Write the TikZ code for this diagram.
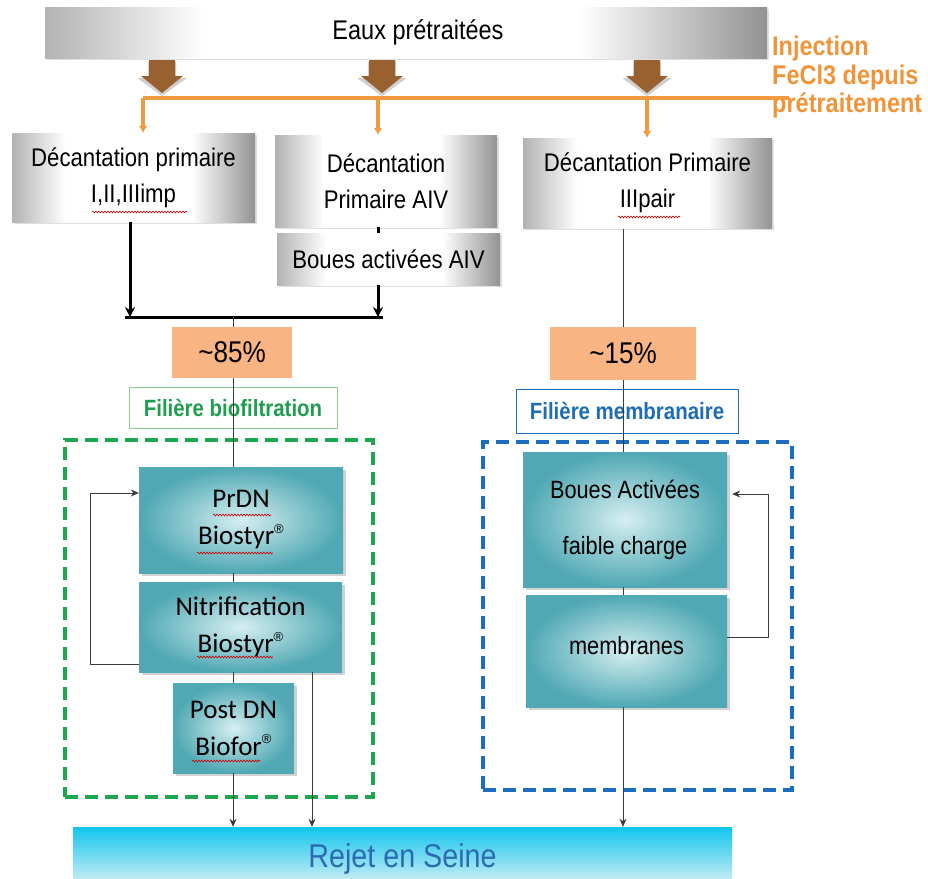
\documentclass[tikz,border=0pt]{standalone}
\usepackage{fontspec}
\setmainfont{Liberation Sans}
\newfontfamily\nf{Liberation Sans}[FakeStretch=0.87]
\newfontfamily\cf{Carlito}
\newfontfamily\regf{Liberation Sans}
\usetikzlibrary{arrows.meta,shadows,decorations.pathmorphing,calc}
\definecolor{brownA}{HTML}{9A6130}
\definecolor{orangeL}{HTML}{F29A40}
\definecolor{orangeT}{HTML}{F0943A}
\definecolor{peach}{HTML}{F9B483}
\definecolor{greenT}{HTML}{1E9E4E}
\definecolor{greenD}{HTML}{1EA64F}
\definecolor{greenL}{HTML}{8ACF8A}
\definecolor{blueT}{HTML}{1E6DB4}
\definecolor{blueD}{HTML}{1A6DC0}
\definecolor{tealD}{HTML}{4FA8B3}
\definecolor{tealL}{HTML}{D6EFF1}
\definecolor{cyanT}{HTML}{12C5EE}
\definecolor{cyanB}{HTML}{E6F3F5}
\definecolor{rejT}{HTML}{2B6CB0}
\definecolor{lineC}{HTML}{3A3A3A}
\pgfdeclarehorizontalshading{grayboxsh}{100bp}{color(0bp)=(gray!60); color(25bp)=(gray!60); color(36bp)=(white); color(62bp)=(white); color(75bp)=(gray!85); color(100bp)=(gray!85)}
\newcommand\regmark{\raisebox{0.9ex}{\regf\fontsize{13}{13}\selectfont ®}}
\tikzset{
  gbox/.style={shading=grayboxsh, inner sep=0pt, align=center,
    font=\nf\fontsize{25.5}{36}\selectfont,
    drop shadow={shadow xshift=1.5pt, shadow yshift=-1.5pt, opacity=0.25}},
  tbox/.style={inner color=tealL, outer color=tealD, inner sep=0pt, align=center,
    font=\cf\fontsize{27}{37}\selectfont,
    drop shadow={shadow xshift=2.5pt, shadow yshift=-2.5pt, opacity=0.35}},
  pbox/.style={fill=peach, inner sep=0pt, font=\nf\fontsize{30}{32}\selectfont},
  lbox/.style={draw, line width=0.8pt, fill=white, inner sep=0pt,
    font=\nf\bfseries\fontsize{23.5}{28}\selectfont},
  dbox/.style={draw, line width=4pt, dash pattern=on 13pt off 7pt, inner sep=0pt},
  rbox/.style={top color=cyanT, bottom color=cyanB, inner sep=0pt,
    text=rejT, font=\nf\fontsize{33}{36}\selectfont},
  injtxt/.style={text=orangeT, align=left, inner sep=0pt,
    font=\nf\bfseries\fontsize{27}{28.5}\selectfont},
  orline/.style={draw=orangeL, line width=3.5pt},
  ortip/.style={-{Latex[length=7pt,width=9pt]}},
  thk/.style={draw=black, line width=3pt},
  thktip/.style={-{Stealth[length=10pt,width=10pt]}},
  thn/.style={draw=lineC, line width=1pt},
  thntip/.style={-{Stealth[length=8pt,width=7pt]}},
  wavy/.style={draw=red!80!black, line width=0.6pt, decorate,
    decoration={snake, amplitude=0.9pt, segment length=3pt}}
}
\begin{document}
\begin{tikzpicture}[x=1pt,y=-1pt]
\clip (0,0) rectangle (928,878);
\fill[white] (0,0) rectangle (928,878);

% top box
\node[gbox, font=\nf\fontsize{27}{30}\selectfont, minimum width=722pt, minimum height=51pt] (top) at (406,32.5) {\hspace*{24pt}Eaux prétraitées};

% brown block arrows
\foreach \x in {162,382,647}{
  \fill[gray!60, opacity=0.6] (\x-14,62) -- (\x+14,62) -- (\x+14,78) -- (\x+25,78) -- (\x,96) -- (\x-25,78) -- (\x-14,78) -- cycle;
  \fill[brownA] (\x-13,60) -- (\x+13,60) -- (\x+13,76) -- (\x+21,76) -- (\x,93) -- (\x-21,76) -- (\x-13,76) -- cycle;
}

% injection text
\node[injtxt, anchor=north west] (inj) at (772,36) {Injection\\FeCl3 depuis\\prétraitement};

% gray boxes
\node[gbox, minimum width=243pt, minimum height=89pt] (d1) at (133.5,177.5) {Décantation primaire\\I,II,IIIimp};
\node[gbox, minimum width=222pt, minimum height=92pt] (d2) at (386,181) {Décantation\\Primaire AIV};
\node[gbox, minimum width=223pt, minimum height=52pt] (d3) at (388.5,259) {Boues activées AIV};
\node[gbox, minimum width=249pt, minimum height=90pt] (d4) at (647.5,183) {Décantation Primaire\\IIIpair};

% orange injection line
\coordinate (o1) at (143,98);
\coordinate (o2) at (378,98);
\coordinate (o3) at (647,98);
\coordinate (oR) at (789,98);
\draw[orline] (o1) -- (oR);
\draw[orline, ortip] (o1) -- (o1 |- d1.north);
\draw[orline, ortip] (o2) -- (o2 |- d2.north);
\draw[orline, ortip] (o3) -- (o3 |- d4.north);

% black collector
\coordinate (jl) at (130,317);
\coordinate (jr) at (378,317);
\coordinate (jc) at (233,317);
\coordinate (jl0) at (125,317);
\coordinate (jr0) at (383,317);
\draw[thk] (jl0) -- (jr0);
\draw[thk, thktip] (d1.south -| jl) -- (jl);
\draw[thk] (d2.south -| jr) -- (d3.north -| jr);
\draw[thk, thktip] (d3.south -| jr) -- (jr);

% percentages
\node[pbox, minimum width=120pt, minimum height=51pt] (p85) at (232,352.5) {\textasciitilde85\%};
\node[pbox, minimum width=146pt, minimum height=53pt] (p15) at (623,353.5) {\textasciitilde15\%};

% line labels
\node[lbox, draw=greenL, text=greenT, minimum width=208pt, minimum height=41pt] (lb) at (233,407.5) {Filière biofiltration};
\node[lbox, draw=blueT, text=blueT, minimum width=222pt, minimum height=44pt] (lm) at (627,411) {Filière membranaire};

% dashed zones
\node[dbox, draw=greenD, minimum width=308pt, minimum height=357pt] (gz) at (219,618.5) {};
\node[dbox, draw=blueD, minimum width=309pt, minimum height=348pt] (bz) at (637.5,616) {};

% treatment boxes
\node[tbox, minimum width=204pt, minimum height=106pt] (prdn) at (241,520) {PrDN\\Biostyr\regmark};
\node[tbox, minimum width=203pt, minimum height=90pt] (nit) at (240.5,627) {Nitrification\\Biostyr\regmark};
\node[tbox, minimum width=121pt, minimum height=90pt] (pdn) at (233.5,728) {Post DN\\Biofor\regmark};
\node[tbox, font=\nf\fontsize{25}{56}\selectfont, minimum width=204pt, minimum height=135pt] (ba) at (625,519.5) {Boues Activées\\faible charge};
\node[tbox, font=\nf\fontsize{25}{30}\selectfont, minimum width=201pt, minimum height=112pt] (mem) at (626.5,651) {\raisebox{12pt}{membranes}};

% outlet
\node[rbox, minimum width=659pt, minimum height=63pt] (rej) at (402.5,858.5) {Rejet en Seine};

% left chain
\draw[thn] (jc) -- (jc |- p85.north);
\draw[thn] (jc |- p85.south) -- (jc |- prdn.north);
\draw[thn] (jc |- prdn.south) -- (jc |- nit.north);
\draw[thn] (jc |- nit.south) -- (jc |- pdn.north);
\draw[thn, thntip] (jc |- pdn.south) -- (jc |- rej.north);
\coordinate (n2) at (312,672);
\draw[thn, thntip] (n2) -- (n2 |- rej.north);
\coordinate (fl1) at (90,664);
\coordinate (fl2) at (90,493);
\draw[thn, thntip] (fl1 -| nit.west) -- (fl1) -- (fl2) -- (fl2 -| prdn.west);

% right chain
\coordinate (rx) at (623,229);
\draw[thn] (rx) -- (rx |- p15.north);
\draw[thn] (rx |- p15.south) -- (rx |- ba.north);
\draw[thn] (rx |- ba.south) -- (rx |- mem.north);
\draw[thn, thntip] (rx |- mem.south) -- (rx |- rej.north);
\coordinate (fr1) at (768,637);
\coordinate (fr2) at (768,494);
\draw[thn, thntip, shorten >=5pt] (fr1 -| mem.east) -- (fr1) -- (fr2) -- (fr2 -| ba.east);

% spell-check underlines
\draw[wavy] (92,212) -- (187,212);
\draw[wavy] (618,217) -- (680,217);
\draw[wavy] (213,515) -- (271,515);
\draw[wavy] (197,553) -- (273,553);
\draw[wavy] (197,657) -- (273,657);
\draw[wavy] (192,761) -- (260,761);
\end{tikzpicture}
\end{document}
